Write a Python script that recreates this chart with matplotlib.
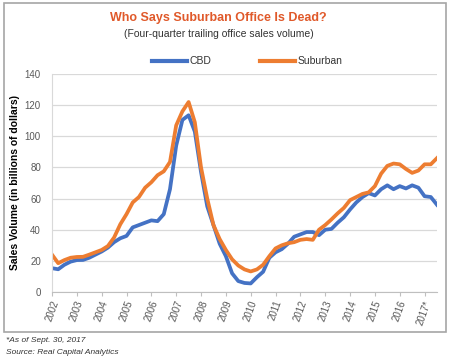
import matplotlib
matplotlib.use("Agg")
import matplotlib.pyplot as plt
import numpy as np
from matplotlib.patches import Rectangle
from matplotlib.lines import Line2D

# quarterly, 2002 Q1 .. 2017 Q3 (billions of dollars)
cbd = [15.3, 14.6, 17.5, 19.5, 20.5, 20.6, 22, 24, 26, 28.5,
       32, 34.5, 36, 41.5, 43, 44.5, 46, 45.5, 50, 66,
       94, 110.5, 113.5, 103, 77, 55, 43, 31, 23, 12,
       7, 5.8, 5.5, 9.5, 13, 22, 25.5, 27.5, 31, 35.5,
       37, 38.5, 38.5, 36.5, 40, 40.5, 44.5, 48, 53, 57.5,
       61, 63.5, 62, 66, 68.5, 66, 68, 66.5, 68.5, 67,
       61.5, 61, 56]
suburban = [24, 18.5, 20.5, 22, 22.5, 22.6, 24, 25.5, 27, 29.5,
            35, 43.5, 50, 57.5, 61, 67, 70.5, 75, 77.5, 83.5,
            107, 116, 122, 109, 80, 60, 43, 34, 27, 21,
            17, 14.5, 13.2, 14.5, 17.5, 23, 28, 30, 31.3, 32,
            33.5, 34, 33.5, 40, 43, 46.6, 50.5, 54, 59, 61,
            63, 64, 68, 76, 81, 82.5, 82, 79, 76.5, 78,
            82, 82, 86]
years = list(range(2002, 2018))
year_labels = [str(y) for y in years[:-1]] + ["2017*"]

x = 2002 + np.arange(len(cbd)) / 4

blue = "#4472C4"
orange = "#ED7D31"
gray = "#595959"
plt.rcParams["font.family"] = ["Liberation Sans Narrow", "Liberation Sans", "DejaVu Sans"]

fig = plt.figure(figsize=(4.5, 3.59), dpi=100)
ax = fig.add_axes([52 / 450, 1 - 292 / 359, 385 / 450, 218 / 359])

ax.plot(x, cbd, color=blue, lw=2.7, solid_joinstyle="round")
ax.plot(x, suburban, color=orange, lw=2.7, solid_joinstyle="round")

ax.set_xlim(2002, x[-1])
ax.set_ylim(0, 140)
ax.set_yticks(range(0, 141, 20))
ax.set_xticks(years)
ax.set_xticklabels(year_labels, rotation=70, ha="center", fontsize=7, color=gray)
ax.tick_params(axis="y", labelsize=7, labelcolor=gray, length=0, pad=8)
ax.tick_params(axis="x", length=3, color="#BFBFBF", pad=2)
ax.grid(axis="y", color="#D9D9D9", lw=0.9)
ax.set_axisbelow(True)
for s in ["top", "right"]:
    ax.spines[s].set_visible(False)
ax.spines["left"].set_color("#D9D9D9")
ax.spines["bottom"].set_color("#BFBFBF")
ax.set_ylabel("Sales Volume (in billions of dollars)", fontsize=7.5,
              fontweight="bold", color="black")
ax.yaxis.set_label_coords(-32 / 385, 0.5)

# titles
fig.text(218 / 450, 1 - 18 / 359, "Who Says Suburban Office Is Dead?",
         ha="center", va="center", fontsize=9, fontweight="bold", color="#E0592A")
fig.text(219 / 450, 1 - 34 / 359, "(Four-quarter trailing office sales volume)",
         ha="center", va="center", fontsize=7.5, color="#333333")

# legend
ly = 1 - 61 / 359
fig.add_artist(Line2D([152 / 450, 187 / 450], [ly, ly], color=blue, lw=3))
fig.text(190 / 450, ly, "CBD", ha="left", va="center", fontsize=7.5, color="#333333")
fig.add_artist(Line2D([260 / 450, 295 / 450], [ly, ly], color=orange, lw=3))
fig.text(298 / 450, ly, "Suburban", ha="left", va="center", fontsize=7.5, color="#333333")

# frame
fig.add_artist(Rectangle((4 / 450, 1 - 332 / 359), 442 / 450, 329 / 359,
                         transform=fig.transFigure, fill=False,
                         edgecolor="#A6A6A6", lw=1.2))

# footnotes
fig.text(6 / 450, 1 - 341 / 359, "*As of Sept. 30, 2017", ha="left", va="center",
         fontsize=6, style="italic", color="#333333")
fig.text(6 / 450, 1 - 353 / 359, "Source: Real Capital Analytics", ha="left",
         va="center", fontsize=6, style="italic", color="#333333")

fig.savefig("out.png", dpi=100)
